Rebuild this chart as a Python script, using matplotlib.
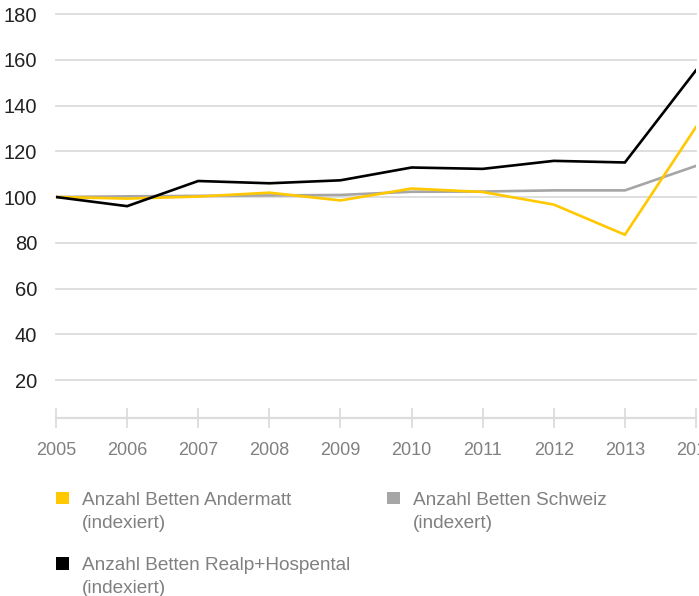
import matplotlib
matplotlib.use("Agg")
import matplotlib.pyplot as plt
from matplotlib.patches import Rectangle

# values (index, 2005 = 100)
years = [2005, 2006, 2007, 2008, 2009, 2010, 2011, 2012, 2013, 2014]
andermatt = [100, 99.3, 100.2, 101.9, 98.5, 103.7, 102.2, 96.7, 83.5, 130.6]
schweiz = [100, 100.3, 100.5, 100.7, 100.9, 102.3, 102.4, 102.9, 102.9, 113.6]
realp_hosp = [100, 96.0, 107.0, 106.0, 107.3, 112.9, 112.3, 115.8, 115.1, 155.4]
yticks = [20, 40, 60, 80, 100, 120, 140, 160, 180]

col_yellow = "#FFC800"
col_gray = "#A6A6A6"
col_black = "#000000"
col_grid = "#DCDCDC"
col_text = "#808080"

plt.rcParams['font.family'] = ['Liberation Sans', 'DejaVu Sans']

fig = plt.figure(figsize=(6.99, 5.96), dpi=100)
ax = fig.add_axes([56 / 699, (596 - 418) / 596, 640 / 699, 404 / 596])

ax.plot(years, schweiz, color=col_gray, lw=1.9, zorder=3, solid_joinstyle='miter')
ax.plot(years, andermatt, color=col_yellow, lw=1.9, zorder=4, solid_joinstyle='miter')
ax.plot(years, realp_hosp, color=col_black, lw=1.9, zorder=5, solid_joinstyle='miter')

ax.set_xlim(2005, 2014)
ax.set_ylim(3.4, 180)
ax.set_xticks(years)
ax.set_yticks(yticks)
ax.yaxis.grid(True, color=col_grid, lw=1.3)
ax.set_axisbelow(True)
for g in ax.get_ygridlines():
    g.set_clip_on(False)

for s in ['top', 'right', 'left']:
    ax.spines[s].set_visible(False)
ax.spines['bottom'].set_color(col_grid)
ax.spines['bottom'].set_linewidth(1.6)

ax.tick_params(axis='y', length=0, pad=13.5, labelsize=14.5, labelcolor='#222222')
ax.tick_params(axis='x', direction='inout', length=14, width=1.3, color=col_grid,
               pad=10, labelsize=13, labelcolor=col_text)
for lab in ax.get_xticklabels():
    lab.set_clip_on(False)

# legend drawn by hand, square aligned with the first text line
entries = [
    (56, 491.5, col_yellow, "Anzahl Betten Andermatt", "(indexiert)"),
    (387, 491.5, col_gray, "Anzahl Betten Schweiz", "(indexert)"),
    (56, 557, col_black, "Anzahl Betten Realp+Hospental", "(indexiert)"),
]
for x0, y0, c, l1, l2 in entries:
    fig.add_artist(Rectangle((x0 / 699, 1 - (y0 + 12.5) / 596), 12.5 / 699, 12.5 / 596,
                             transform=fig.transFigure, color=c, lw=0))
    fig.text((x0 + 26) / 699, 1 - (y0 + 13.5) / 596, l1, fontsize=13.7,
             color=col_text, va='baseline', ha='left')
    fig.text((x0 + 26) / 699, 1 - (y0 + 36) / 596, l2, fontsize=13.7,
             color=col_text, va='baseline', ha='left')

fig.savefig("out.png", dpi=100)
